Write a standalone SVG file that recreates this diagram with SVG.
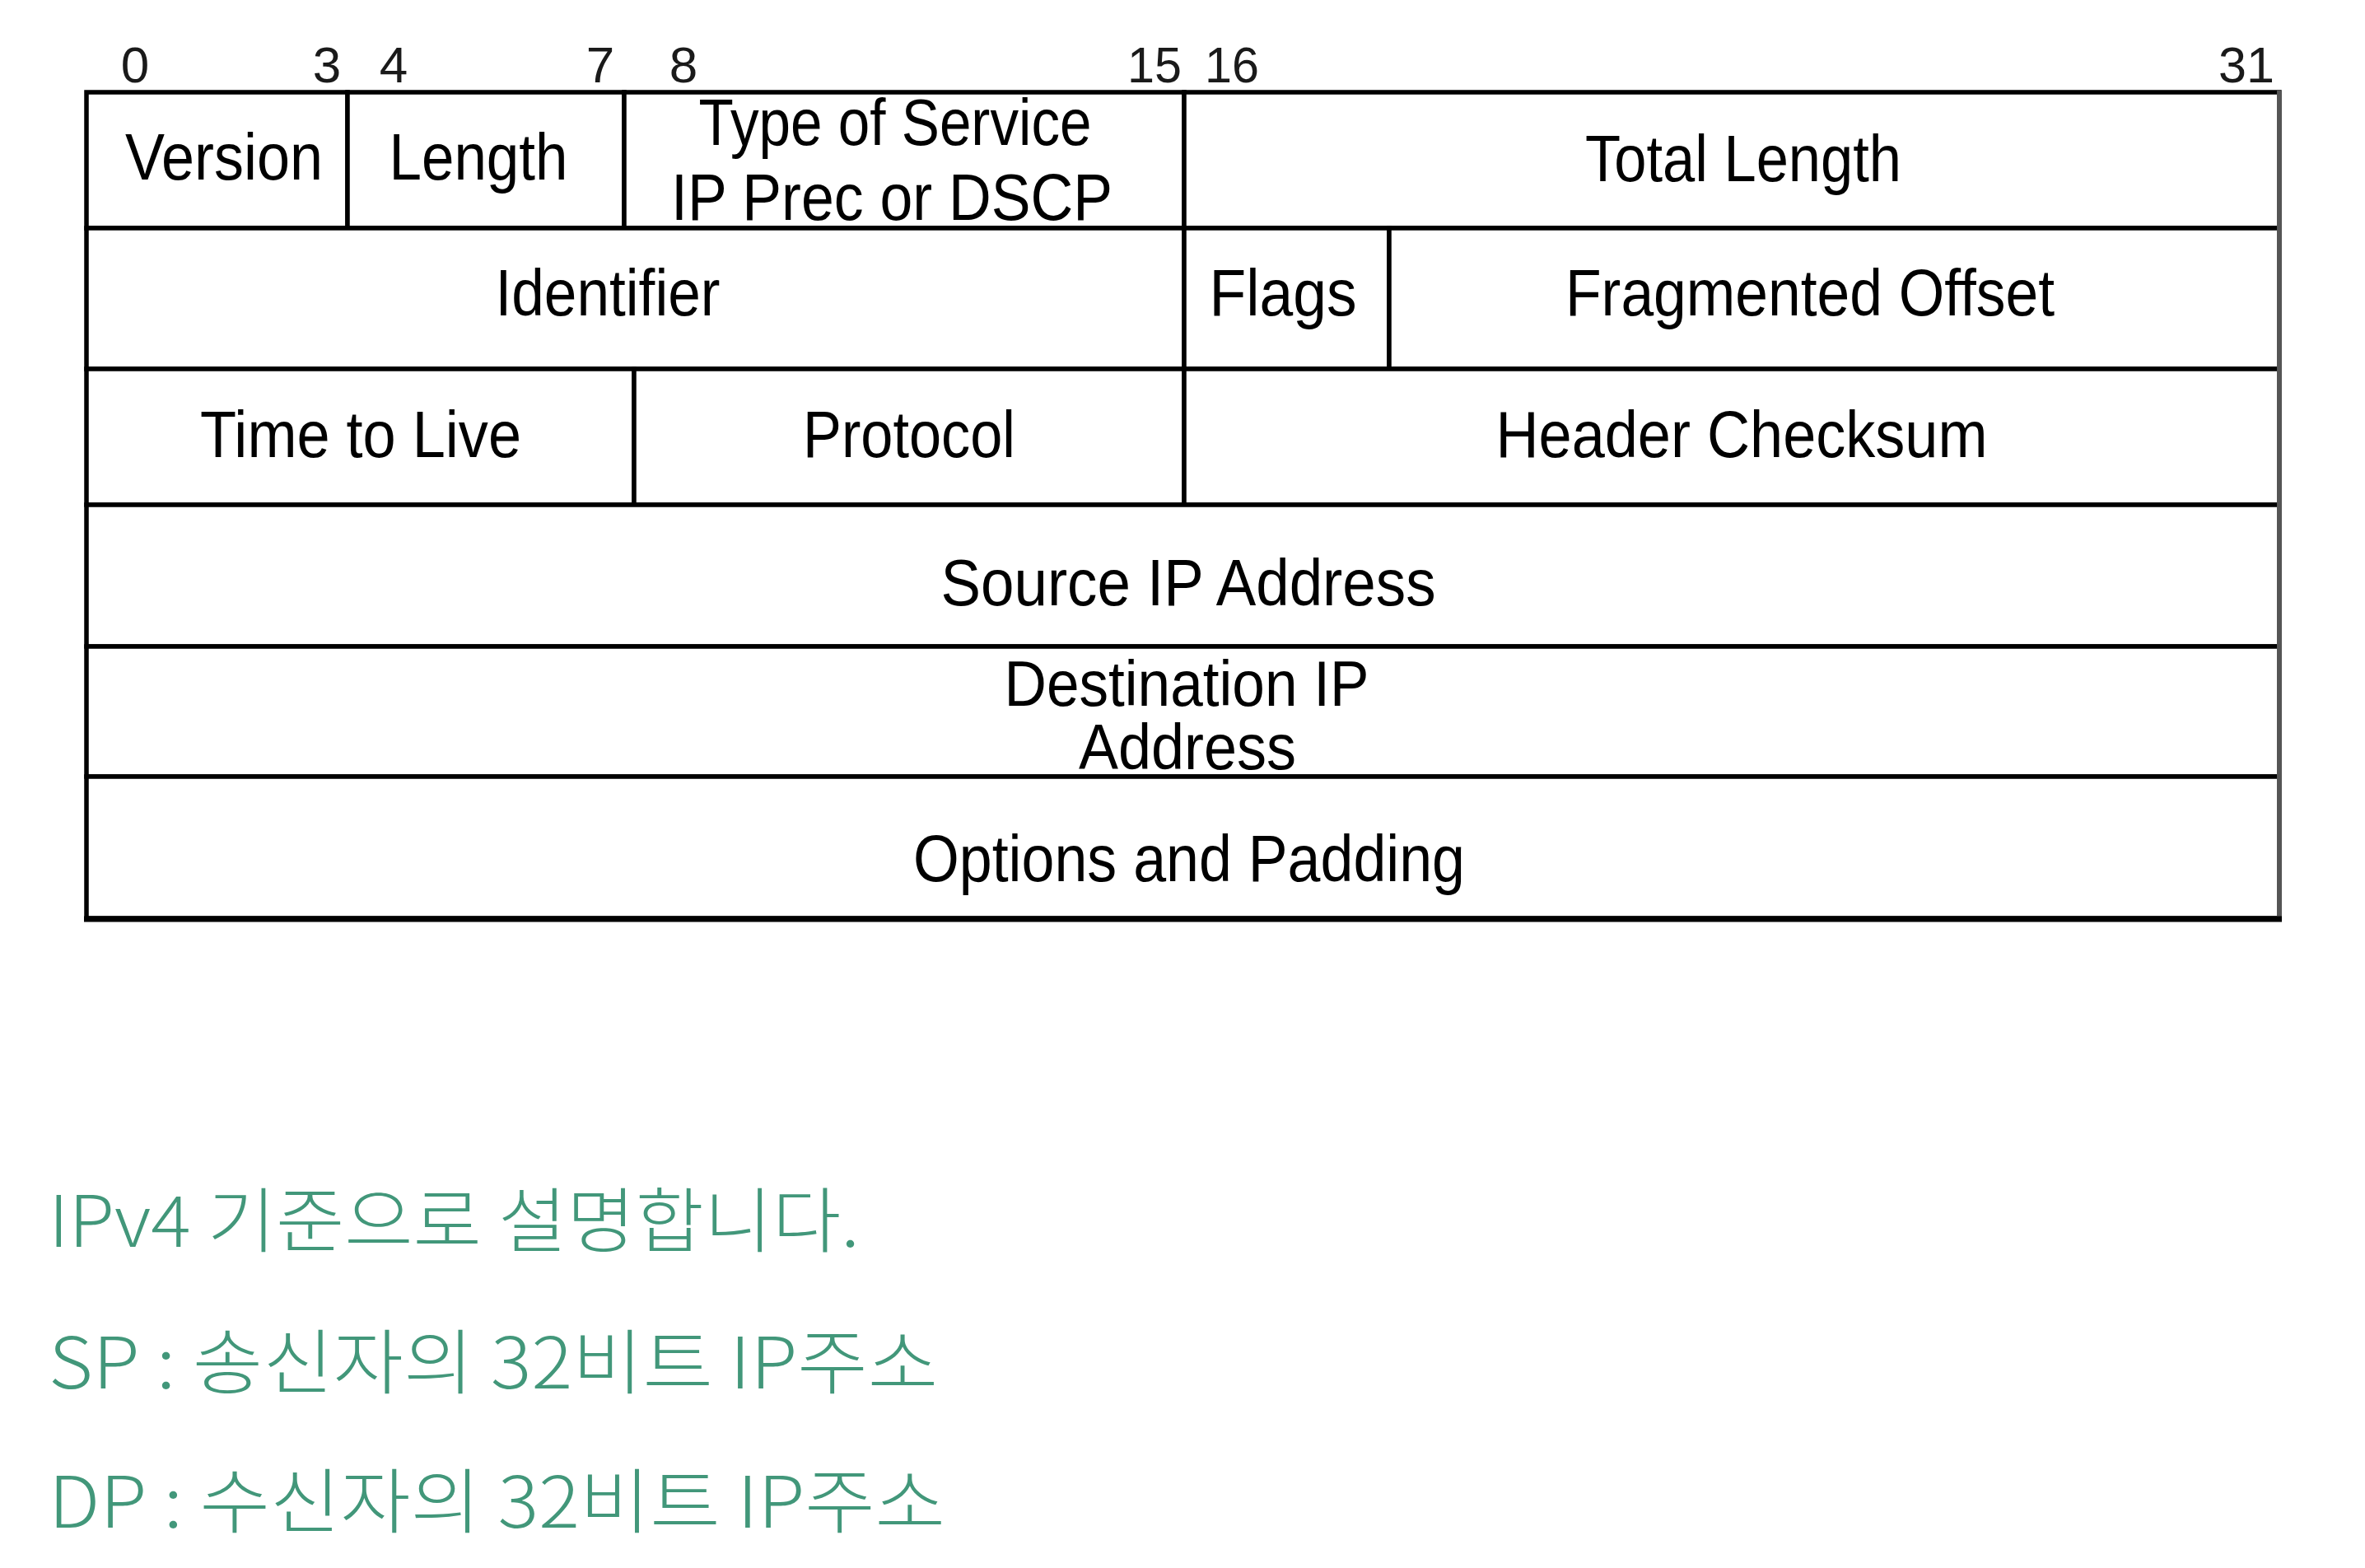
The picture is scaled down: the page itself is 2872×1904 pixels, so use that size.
<svg xmlns="http://www.w3.org/2000/svg" width="2872" height="1904" viewBox="0 0 2872 1904">
<style>
.cell{fill:#fff;stroke:#000;stroke-width:5.5}
.t{font-family:"Liberation Sans",Arial,sans-serif;font-size:80px;fill:#000;text-anchor:middle}
.d{font-family:"Liberation Sans",Arial,sans-serif;font-size:77px;fill:#000;text-anchor:middle}
.n{font-family:"Liberation Sans",Arial,sans-serif;font-size:62px;fill:#1a1a1a;text-anchor:middle}
.k{font-family:"Noto Sans CJK KR","Noto Sans",sans-serif;font-size:86px;fill:#42977a;font-weight:300}
</style>
<rect width="2872" height="1904" fill="#fff"/>
<g id="bit-ruler">
<text class="n" x="164" y="100">0</text>
<text class="n" x="397" y="100">3</text>
<text class="n" x="478" y="100">4</text>
<text class="n" x="729" y="100">7</text>
<text class="n" x="830" y="100">8</text>
<text class="n" x="1402" y="100" textLength="66" lengthAdjust="spacingAndGlyphs">15</text>
<text class="n" x="1496" y="100" textLength="66" lengthAdjust="spacingAndGlyphs">16</text>
<text class="n" x="2728" y="100" textLength="68" lengthAdjust="spacingAndGlyphs">31</text>
</g>
<g id="version"><rect class="cell" x="105" y="112" width="317" height="165"/><text class="t" x="272" y="218" textLength="240" lengthAdjust="spacingAndGlyphs">Version</text></g>
<g id="length"><rect class="cell" x="422" y="112" width="336" height="165"/><text class="t" x="581" y="218" textLength="217" lengthAdjust="spacingAndGlyphs">Length</text></g>
<g id="tos"><rect class="cell" x="758" y="112" width="680" height="165"/><text class="t" x="1087" y="176" textLength="477" lengthAdjust="spacingAndGlyphs">Type of Service</text><text class="t" x="1083" y="267" textLength="536" lengthAdjust="spacingAndGlyphs">IP Prec or DSCP</text></g>
<g id="total-length"><rect class="cell" x="1438" y="112" width="1330" height="165"/><text class="t" x="2117" y="220" textLength="384" lengthAdjust="spacingAndGlyphs">Total Length</text></g>
<g id="identifier"><rect class="cell" x="105" y="277" width="1333" height="171"/><text class="t" x="738" y="383" textLength="273" lengthAdjust="spacingAndGlyphs">Identifier</text></g>
<g id="flags"><rect class="cell" x="1438" y="277" width="249" height="171"/><text class="t" x="1558" y="383" textLength="179" lengthAdjust="spacingAndGlyphs">Flags</text></g>
<g id="fragment-offset"><rect class="cell" x="1687" y="277" width="1081" height="171"/><text class="t" x="2198" y="383" textLength="594" lengthAdjust="spacingAndGlyphs">Fragmented Offset</text></g>
<g id="ttl"><rect class="cell" x="105" y="448" width="665" height="165"/><text class="t" x="438" y="555" textLength="390" lengthAdjust="spacingAndGlyphs">Time to Live</text></g>
<g id="protocol"><rect class="cell" x="770" y="448" width="668" height="165"/><text class="t" x="1104" y="555" textLength="258" lengthAdjust="spacingAndGlyphs">Protocol</text></g>
<g id="checksum"><rect class="cell" x="1438" y="448" width="1330" height="165"/><text class="t" x="2115" y="555" textLength="597" lengthAdjust="spacingAndGlyphs">Header Checksum</text></g>
<g id="source-ip"><rect class="cell" x="105" y="613" width="2663" height="172"/><text class="t" x="1443" y="735" textLength="601" lengthAdjust="spacingAndGlyphs">Source IP Address</text></g>
<g id="destination-ip"><rect class="cell" x="105" y="785" width="2663" height="158"/><text class="d" x="1441" y="857" textLength="443" lengthAdjust="spacingAndGlyphs">Destination IP</text><text class="d" x="1442" y="934" textLength="264" lengthAdjust="spacingAndGlyphs">Address</text></g>
<g id="options"><rect class="cell" x="105" y="943" width="2663" height="172"/><text class="t" x="1444" y="1070" textLength="670" lengthAdjust="spacingAndGlyphs">Options and Padding</text></g>
<g id="borders">
<line x1="2768" y1="110" x2="2768" y2="1118" stroke="#555" stroke-width="6"/>
<line x1="102" y1="1116" x2="2771" y2="1116" stroke="#000" stroke-width="7"/>
</g>
<g id="connectors"></g>
<g id="notes">
<text class="k" x="59" y="1514" textLength="985" lengthAdjust="spacingAndGlyphs">IPv4 기준으로 설명합니다.</text>
<text class="k" x="59" y="1686" textLength="1080" lengthAdjust="spacingAndGlyphs">SP : 송신자의 32비트 IP주소</text>
<text class="k" x="59" y="1855" textLength="1089" lengthAdjust="spacingAndGlyphs">DP : 수신자의 32비트 IP주소</text>
</g>
</svg>
